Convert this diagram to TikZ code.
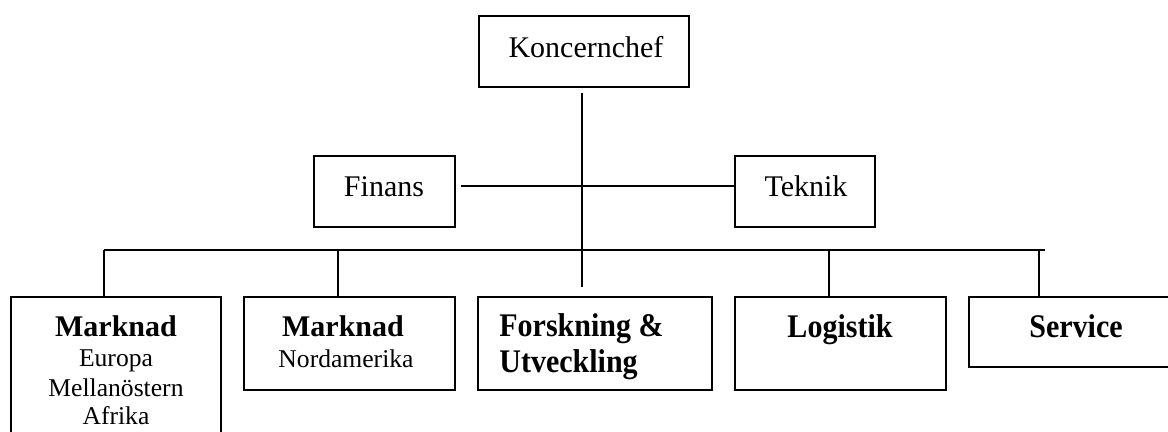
\documentclass[tikz,border=0pt]{standalone}
\usepackage{fontspec}
\setmainfont{Liberation Serif}
\usetikzlibrary{calc}

% one unit = one pixel of the 1168 x 432 chart
\tikzset{
  box/.style={draw, line width=0.95pt, inner sep=0pt},
  wire/.style={line width=0.95pt},
  head/.style={inner sep=0pt, anchor=base, font=\fontsize{15}{15}\selectfont},
  dept/.style={inner sep=0pt, anchor=base, font=\bfseries\fontsize{15}{15}\selectfont},
  region/.style={inner sep=0pt, anchor=base, font=\fontsize{12.8}{12.8}\selectfont},
}
% \orgbox{name}{x1}{y1}{x2}{y2}
\newcommand\orgbox[5]{%
  \node[box, minimum width={(#4-#2)*0.5pt}, minimum height={(#5-#3)*0.5pt}]
    (#1) at ({(#2+#4)/2},{(#3+#5)/2}) {};}
% slightly tall lettering for the single-title units
\newcommand\tallword[1]{\scalebox{1}[1.1]{#1}}

\begin{document}
\begin{tikzpicture}[x=0.5pt, y=-0.5pt]
  \clip (0,0) rectangle (1168,432);
  \fill[white] (0,0) rectangle (1168,432);

  % boxes
  \orgbox{kc}{479}{16}{689}{87}
  \orgbox{fin}{314}{156}{455}{227}
  \orgbox{tek}{735}{156}{875}{227}
  \orgbox{mkA}{11}{297}{221}{470}
  \orgbox{mkB}{244}{297}{455}{390}
  \orgbox{fou}{478}{297}{712}{390}
  \orgbox{log}{735}{297}{946}{390}
  \orgbox{srv}{969}{297}{1183}{367}

  % labels
  \node[head] (kcT) at (586,58) {Koncernchef};
  \node[head] (finT) at (384,197) {Finans};
  \node[head] (tekT) at (806,197) {Teknik};

  \node[dept] (mkA1) at (116,337) {Marknad};
  \node[region] (mkA2) at (116,367) {Europa};
  \node[region] (mkA3) at (116,397) {Mellanöstern};
  \node[region] (mkA4) at (116,425) {Afrika};

  \node[dept] (mkB1) at (343,337) {Marknad};
  \node[region] (mkB2) at (346,368) {Nordamerika};

  \node[dept, anchor=base west] (fou1) at (499,337) {\tallword{Forskning \&}};
  \node[dept, anchor=base west] (fou2) at (499,373) {\tallword{Utveckling}};

  \node[dept] (logT) at (840,338) {\tallword{Logistik}};
  \node[dept] (srvT) at (1076,338) {\tallword{Service}};

  % connectors
  \coordinate (spineTop) at (582,93);
  \coordinate (spineEnd) at (582,287);
  \coordinate (staffL) at (461,186);
  \coordinate (busL) at (104,250);
  \coordinate (busR) at (1045,250);
  \coordinate (dA) at (104,250);
  \coordinate (dB) at (338,250);
  \coordinate (dL) at (829,250);
  \coordinate (dS) at (1039,250);

  \draw[wire] (spineTop) -- (spineEnd);
  \draw[wire] (staffL) -- (staffL -| tek.west);
  \draw[wire] (busL) -- (busR);
  \draw[wire] (dA) -- (dA |- mkA.north);
  \draw[wire] (dB) -- (dB |- mkB.north);
  \draw[wire] (dL) -- (dL |- log.north);
  \draw[wire] (dS) -- (dS |- srv.north);
\end{tikzpicture}
\end{document}
